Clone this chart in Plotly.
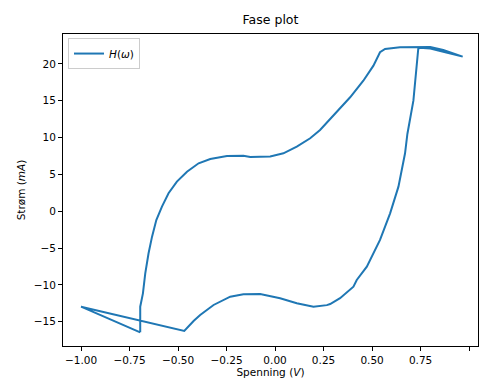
import plotly.graph_objects as go

# Voltage (V) and current (mA), traced along the loop
spenning = [
    -0.695, -0.693, -0.695, -0.681, -0.669, -0.652, -0.634, -0.612, -0.583,
    -0.549, -0.506, -0.454, -0.394, -0.334, -0.248, -0.163, -0.128, -0.025,
    0.043, 0.112, 0.181, 0.232, 0.265, 0.301, 0.387, 0.455, 0.507, 0.541, 0.567,
    0.644, 0.738, 0.800, 0.867, 0.967,
    0.867, 0.800, 0.745,
    0.738, 0.713, 0.696, 0.682, 0.670, 0.636, 0.593, 0.541, 0.473, 0.421,
    0.404, 0.335, 0.284, 0.267, 0.198, 0.112, 0.026, -0.077, -0.163, -0.231,
    -0.317, -0.386, -0.420, -0.468,
    -1.000, -0.695,
]
strom = [
    -16.44, -14.50, -12.96, -11.15, -8.43, -5.71, -3.45, -1.19, 0.62,
    2.44, 4.02, 5.37, 6.51, 7.10, 7.51, 7.55, 7.38, 7.45,
    7.87, 8.77, 9.91, 11.04, 12.00, 13.00, 15.48, 17.73, 19.77, 21.59, 22.04,
    22.27, 22.27, 22.30, 21.90, 21.00,
    21.65, 22.10, 22.20,
    22.04, 15.02, 12.39, 10.49, 7.87, 3.34, -0.28, -3.90, -7.53, -9.34,
    -10.25, -11.80, -12.60, -12.75, -12.96, -12.50, -11.82, -11.24, -11.28, -11.60,
    -12.73, -14.09, -14.90, -16.26,
    -12.96, -16.44,
]

x_ticks = [-1.0, -0.75, -0.5, -0.25, 0.0, 0.25, 0.5, 0.75, 1.0]
y_ticks = [-15, -10, -5, 0, 5, 10, 15, 20]

fig = go.Figure()
fig.add_trace(go.Scatter(
    x=spenning, y=strom, mode="lines",
    line=dict(color="#1f77b4", width=2),
    name="<i>H</i>(<i>ω</i>)", showlegend=True,
))

axis_common = dict(
    showgrid=False, zeroline=False, showline=True, linecolor="black",
    linewidth=1, mirror=True, ticks="outside", ticklen=4, tickcolor="black",
    tickfont=dict(size=10.5, color="black"),
)

fig.update_layout(
    width=480, height=385,
    margin=dict(l=63, r=2, t=34, b=39),
    paper_bgcolor="white", plot_bgcolor="white",
    font=dict(family="DejaVu Sans", color="black"),
    title=dict(text="Fase plot", x=(63 + 478) / 2 / 480, xanchor="center",
               y=1 - 20 / 385, yanchor="middle", font=dict(size=12.5)),
    xaxis=dict(range=[-1.093, 1.046], tickvals=x_ticks, tickformat=".2f",
               title=dict(text="Spenning (<i>V</i>)", font=dict(size=10.5), standoff=4),
               **axis_common),
    yaxis=dict(range=[-18.3, 24.07], tickvals=y_ticks,
               title=dict(text="Strøm (<i>mA</i>)", font=dict(size=10.5), standoff=6),
               **axis_common),
    legend=dict(x=0.012, y=0.987, xanchor="left", yanchor="top",
                bgcolor="white", bordercolor="#cccccc", borderwidth=1,
                font=dict(size=10.5)),
)

fig.write_html("out.html", config={"displayModeBar": False},
               post_script="document.body.style.margin='0';document.body.style.overflow='hidden';")
